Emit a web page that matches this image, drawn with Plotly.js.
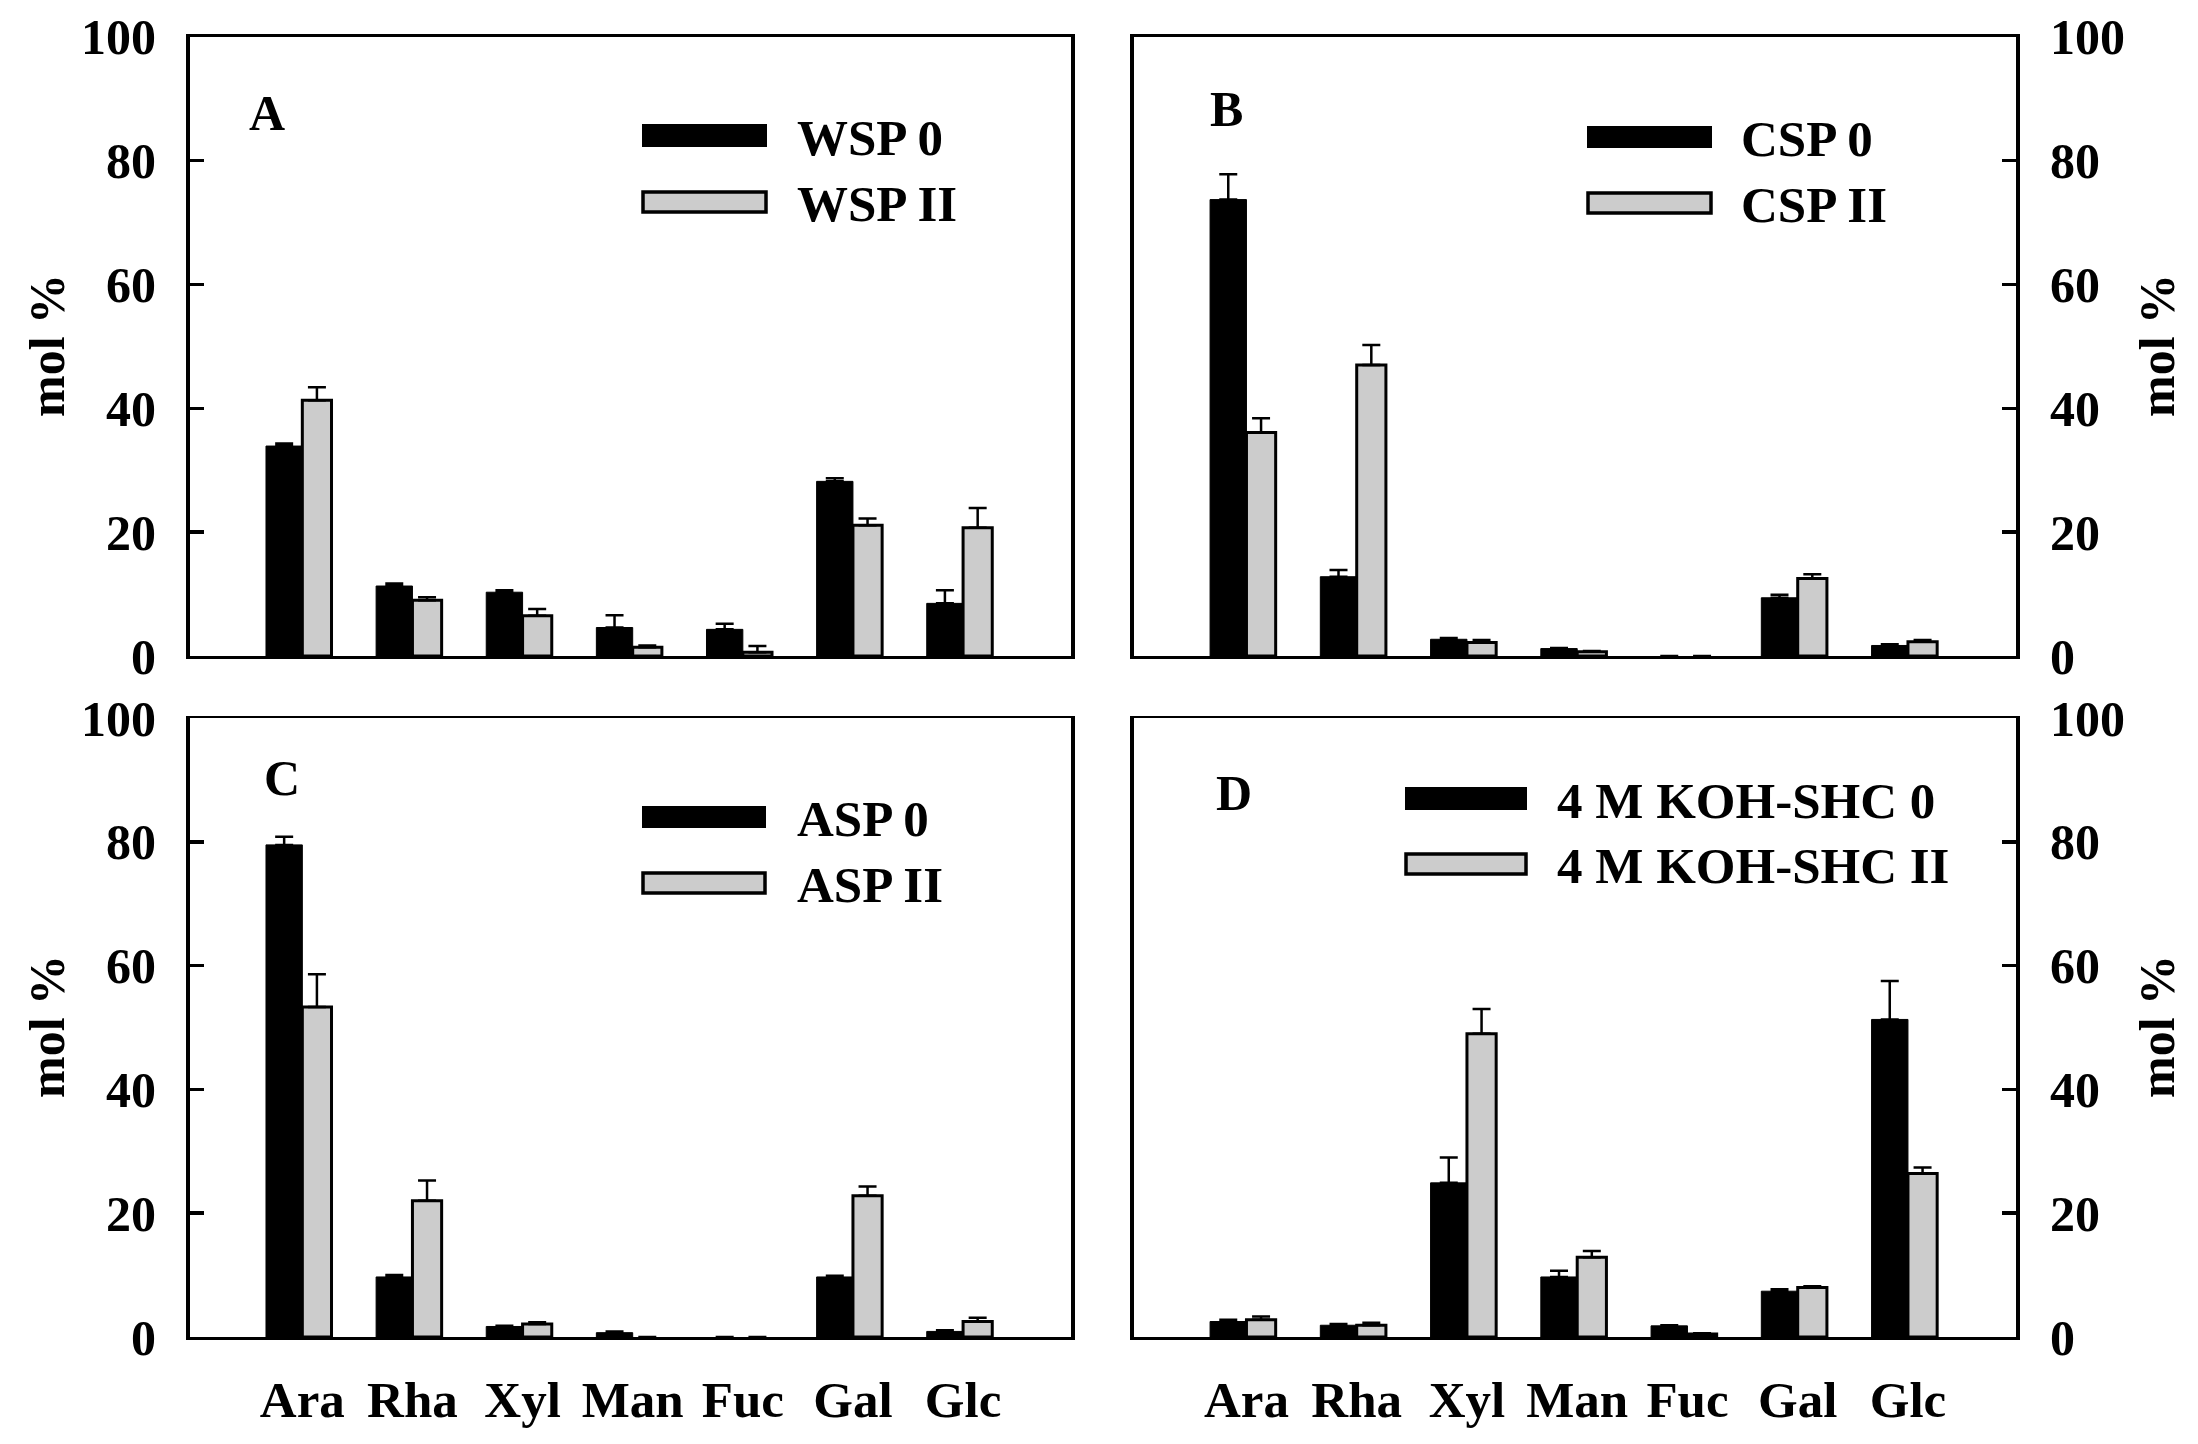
<!DOCTYPE html>
<html>
<head>
<meta charset="utf-8">
<script src="https://cdn.plot.ly/plotly-3.0.1.min.js"></script>
<style>html,body{margin:0;padding:0;background:#fff;}#chart{width:2198px;height:1444px;}</style>
</head>
<body>
<div id="chart"></div>
<script>
// ---- data ----
const categories = ['Ara','Rha','Xyl','Man','Fuc','Gal','Glc'];

const wsp0     = [33.9, 11.3, 10.3, 4.6, 4.3, 28.2, 8.5];
const wsp0Err  = [0.4, 0.4, 0.3, 2.0, 0.9, 0.5, 2.1];
const wspII    = [41.3, 9.0, 6.5, 1.4, 0.6, 21.1, 20.7];
const wspIIErr = [2.1, 0.5, 1.1, 0.3, 1.0, 1.1, 3.2];

const csp0     = [73.7, 12.8, 2.7, 1.2, 0, 9.4, 1.7];
const csp0Err  = [4.1, 1.1, 0.2, 0.1, 0, 0.5, 0.2];
const cspII    = [36.1, 47.0, 2.2, 0.7, 0, 12.5, 2.3];
const cspIIErr = [2.3, 3.2, 0.4, 0.1, 0, 0.7, 0.3];

const asp0     = [79.5, 9.7, 1.7, 0.7, 0, 9.7, 0.9];
const asp0Err  = [1.3, 0.3, 0.1, 0.2, 0, 0.2, 0.2];
const aspII    = [53.3, 22.0, 2.1, 0, 0, 22.8, 2.5];
const aspIIErr = [5.3, 3.3, 0.3, 0, 0, 1.5, 0.6];

const koh0     = [2.5, 1.9, 24.9, 9.7, 1.8, 7.4, 51.3];
const koh0Err  = [0.3, 0.2, 4.1, 1.0, 0.1, 0.3, 6.2];
const kohII    = [2.8, 1.9, 49.0, 12.9, 0.5, 8.0, 26.4];
const kohIIErr = [0.5, 0.4, 4.0, 1.0, 0.1, 0.2, 1.0];

const seriesNames = [
  ['WSP 0','WSP II'],
  ['CSP 0','CSP II'],
  ['ASP 0','ASP II'],
  ['4 M KOH-SHC 0','4 M KOH-SHC II']
];
const panelLetters = ['A','B','C','D'];
const yTitle = 'mol %';

// ---- layout helpers ----
const W = 2198, H = 1444;
const FONT = 'Liberation Serif, Times New Roman, serif';
const px = v => v / W;
const py = v => 1 - v / H;

const panels = [
  {xa:'x',  ya:'y',  xd:[190,1071],  yd:[36.7,656],  side:'left',  bottom:false, d0:wsp0, e0:wsp0Err, d1:wspII, e1:wspIIErr},
  {xa:'x2', ya:'y2', xd:[1134,2016], yd:[36.7,656],  side:'right', bottom:false, d0:csp0, e0:csp0Err, d1:cspII, e1:cspIIErr},
  {xa:'x3', ya:'y3', xd:[190,1071],  yd:[718,1337],  side:'left',  bottom:true,  d0:asp0, e0:asp0Err, d1:aspII, e1:aspIIErr},
  {xa:'x4', ya:'y4', xd:[1134,2016], yd:[718,1337],  side:'right', bottom:true,  d0:koh0, e0:koh0Err, d1:kohII, e1:kohIIErr}
];

const traces = [];
const layout = {
  width: W, height: H,
  margin: {l:0, r:0, t:0, b:0},
  paper_bgcolor: '#ffffff', plot_bgcolor: '#ffffff',
  showlegend: false,
  barmode: 'overlay',
  font: {family: FONT, size: 50, color: '#000', weight: 'bold'},
  shapes: [], annotations: []
};

const zeros = n => new Array(n).fill(0);
const errWidth = (vals, w) => vals.map(v => v > 0 ? w : 0);

panels.forEach((p, i) => {
  traces.push({
    type:'bar', x: categories, y: p.d0, xaxis: p.xa, yaxis: p.ya,
    name: seriesNames[i][0],
    width: 0.33, offset: -0.33,
    marker: {color:'#000000', line:{color:'#000000', width: errWidth(p.d0, 1)}},
    error_y: {type:'data', array: p.e0, arrayminus: zeros(p.e0.length), symmetric:false,
              visible:true, color:'#000', thickness:2.5, width:9}
  });
  traces.push({
    type:'bar', x: categories, y: p.d1, xaxis: p.xa, yaxis: p.ya,
    name: seriesNames[i][1],
    width: 0.265, offset: 0.0,
    marker: {color:'#cccccc', line:{color:'#000000', width: errWidth(p.d1, 3)}},
    error_y: {type:'data', array: p.e1, arrayminus: zeros(p.e1.length), symmetric:false,
              visible:true, color:'#000', thickness:2.5, width:9}
  });

  const xk = 'xaxis' + (i ? i+1 : '');
  const yk = 'yaxis' + (i ? i+1 : '');
  layout[xk] = {
    domain: [px(p.xd[0]), px(p.xd[1])],
    anchor: p.ya,
    type: 'category',
    range: [-1.02, 6.98],
    showline: true, linecolor:'#000', linewidth: 2.5, mirror: true,
    ticks: '', showgrid: false, zeroline: false,
    showticklabels: p.bottom,
    ticklabelstandoff: 16,
    tickfont: {family: FONT, size: 51, color:'#000', weight:'bold'}
  };
  layout[yk] = {
    domain: [py(p.yd[1]), py(p.yd[0])],
    anchor: p.xa,
    side: p.side,
    range: [0, 100],
    tickvals: [0,20,40,60,80,100],
    ticks: 'inside', ticklen: 14, tickwidth: 3.5, tickcolor:'#000',
    showline: true, linecolor:'#000', linewidth: 4, mirror: true,
    showgrid: false, zeroline: false,
    ticklabelstandoff: 20,
    tickfont: {family: FONT, size: 50, color:'#000', weight:'bold'}
  };
});

// y axis titles (as annotations for exact placement)
const titlePos = [
  {x:47,   y:346},
  {x:2157, y:346},
  {x:47,   y:1027},
  {x:2157, y:1027}
];
titlePos.forEach(t => {
  layout.annotations.push({
    xref:'paper', yref:'paper', x: px(t.x), y: py(t.y),
    xanchor:'center', yanchor:'middle', textangle:-90, showarrow:false,
    text: yTitle, font:{family:FONT, size:50, color:'#000', weight:'bold'}
  });
});

// panel letters
const letterPos = [{x:267,y:113},{x:1226,y:109},{x:282,y:778},{x:1234,y:793}];
letterPos.forEach((l, i) => {
  layout.annotations.push({
    xref:'paper', yref:'paper', x: px(l.x), y: py(l.y),
    xanchor:'center', yanchor:'middle', showarrow:false,
    text: panelLetters[i], font:{family:FONT, size:50, color:'#000', weight:'bold'}
  });
});

// legends (swatches + labels)
const legendPos = [
  {sx:[643,766],   r1:[125,146], r2:[192,212], tx:795},
  {sx:[1588,1711], r1:[127,147], r2:[193,213], tx:1739},
  {sx:[643,765],   r1:[807,827], r2:[873,893], tx:795},
  {sx:[1406,1526], r1:[788,809], r2:[854,874], tx:1555}
];
legendPos.forEach((g, i) => {
  layout.shapes.push({type:'rect', xref:'paper', yref:'paper',
    x0:px(g.sx[0]), x1:px(g.sx[1]), y0:py(g.r1[1]), y1:py(g.r1[0]),
    fillcolor:'#000', line:{color:'#000', width:2}});
  layout.shapes.push({type:'rect', xref:'paper', yref:'paper',
    x0:px(g.sx[0]), x1:px(g.sx[1]), y0:py(g.r2[1]), y1:py(g.r2[0]),
    fillcolor:'#cccccc', line:{color:'#000', width:3.5}});
  [g.r1, g.r2].forEach((r, k) => {
    layout.annotations.push({
      xref:'paper', yref:'paper', x: px(g.tx), y: py((r[0]+r[1])/2 + 2),
      xanchor:'left', yanchor:'middle', showarrow:false,
      text: seriesNames[i][k], font:{family:FONT, size:51, color:'#000', weight:'bold'}
    });
  });
});

Plotly.newPlot('chart', traces, layout, {staticPlot:true, displayModeBar:false});
</script>
</body>
</html>
